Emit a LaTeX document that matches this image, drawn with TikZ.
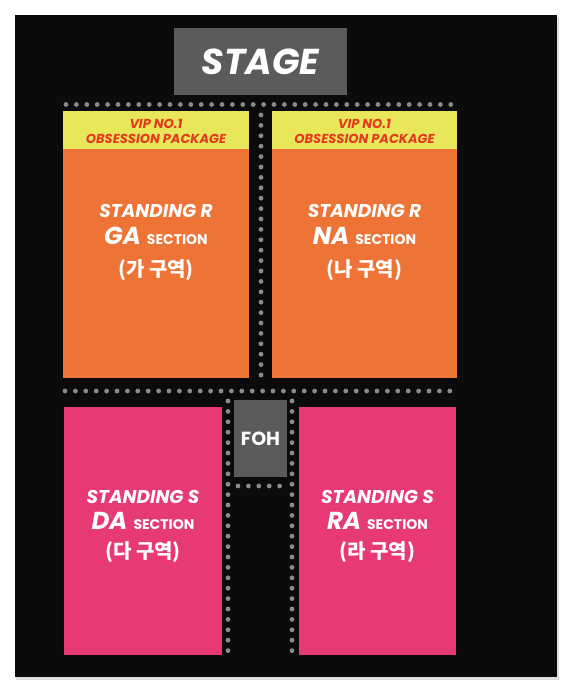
\documentclass[tikz,border=0pt]{standalone}
\usepackage{fontspec}
\setmainfont{Poppins}
\newfontfamily\kr{Noto Sans CJK KR}
\definecolor{bgblack}{HTML}{0B0B0B}
\definecolor{stagegray}{HTML}{5B5B5B}
\definecolor{dotgray}{HTML}{8A8A8A}
\definecolor{secorange}{HTML}{EE7336}
\definecolor{vipyellow}{HTML}{E8E65A}
\definecolor{vipred}{HTML}{E23A1E}
\definecolor{secpink}{HTML}{E83A72}
\tikzset{
  dotrow/.style={draw=dotgray, line width=4.8pt, line cap=round, dash pattern=on 0pt off 10.4pt},
  area/.style={inner sep=0pt, outer sep=0pt},
  line1/.style={anchor=base, text=white, font=\fontsize{18.5}{18.5}\selectfont\bfseries\itshape, inner sep=0pt},
  line2/.style={anchor=base, text=white, inner sep=0pt},
  line3/.style={text=white, font=\kr\fontsize{20}{20}\selectfont\bfseries, inner sep=0pt},
  viptext/.style={text=vipred, font=\fontsize{13}{15}\selectfont\bfseries\itshape, align=center, inner sep=0pt}
}
\newcommand{\bigsec}[1]{{\fontsize{24.5}{24.5}\selectfont\bfseries\itshape #1}\hspace{6pt}{\fontsize{14}{14}\selectfont\bfseries SECTION}}
\begin{document}
\begin{tikzpicture}[x=1pt,y=-1pt]
\useasboundingbox (0,0) rectangle (572,692);
\fill[white] (0,0) rectangle (572,692);
% venue background
\fill[gray!25] (16,17) rectangle (559,680);
\fill[bgblack] (15,15) rectangle (557,677);
% stage
\node[area, fill=stagegray, minimum width=173pt, minimum height=67pt, text=white,
  font=\fontsize{36}{36}\selectfont\bfseries\itshape] (stage) at (260.5,61.5) {STAGE};
% dotted aisles
\draw[dotrow] (66,104.5) -- (456,104.5);
\draw[dotrow] (261,115) -- (261,380);
\draw[dotrow] (65,391) -- (456,391);
\draw[dotrow] (228,401) -- (228,652);
\draw[dotrow] (292,401) -- (292,652);
\draw[dotrow] (238,486) -- (283,486);
% upper sections
\fill[secorange] (63,111) rectangle (249,378);
\fill[vipyellow] (63,111) rectangle (249,149);
\fill[secorange] (272,111) rectangle (457,378);
\fill[vipyellow] (272,111) rectangle (457,149);
\node[viptext] (vipa) at (156,131) {VIP NO.1\\OBSESSION PACKAGE};
\node[viptext] (vipb) at (364.5,131) {VIP NO.1\\OBSESSION PACKAGE};
\node[line1] (ga1) at (156,218) {STANDING R};
\node[line2] (ga2) at (156,244) {\bigsec{GA}};
\node[line3] (ga3) at (156,270.5) {(가 구역)};
\node[line1] (na1) at (364.5,218) {STANDING R};
\node[line2] (na2) at (364.5,244) {\bigsec{NA}};
\node[line3] (na3) at (364.5,270.5) {(나 구역)};
% lower sections
\fill[secpink] (64,407) rectangle (222,655);
\fill[secpink] (299,407) rectangle (456,655);
\node[area, fill=stagegray, minimum width=53pt, minimum height=77pt, text=white,
  font=\fontsize{19}{19}\selectfont\bfseries] (foh) at (260.5,438.5) {FOH};
\node[line1] (da1) at (143,503) {STANDING S};
\node[line2] (da2) at (143,529.5) {\bigsec{DA}};
\node[line3] (da3) at (143,552) {(다 구역)};
\node[line1] (ra1) at (377.5,503) {STANDING S};
\node[line2] (ra2) at (377.5,529.5) {\bigsec{RA}};
\node[line3] (ra3) at (377.5,552) {(라 구역)};
\end{tikzpicture}
\end{document}
